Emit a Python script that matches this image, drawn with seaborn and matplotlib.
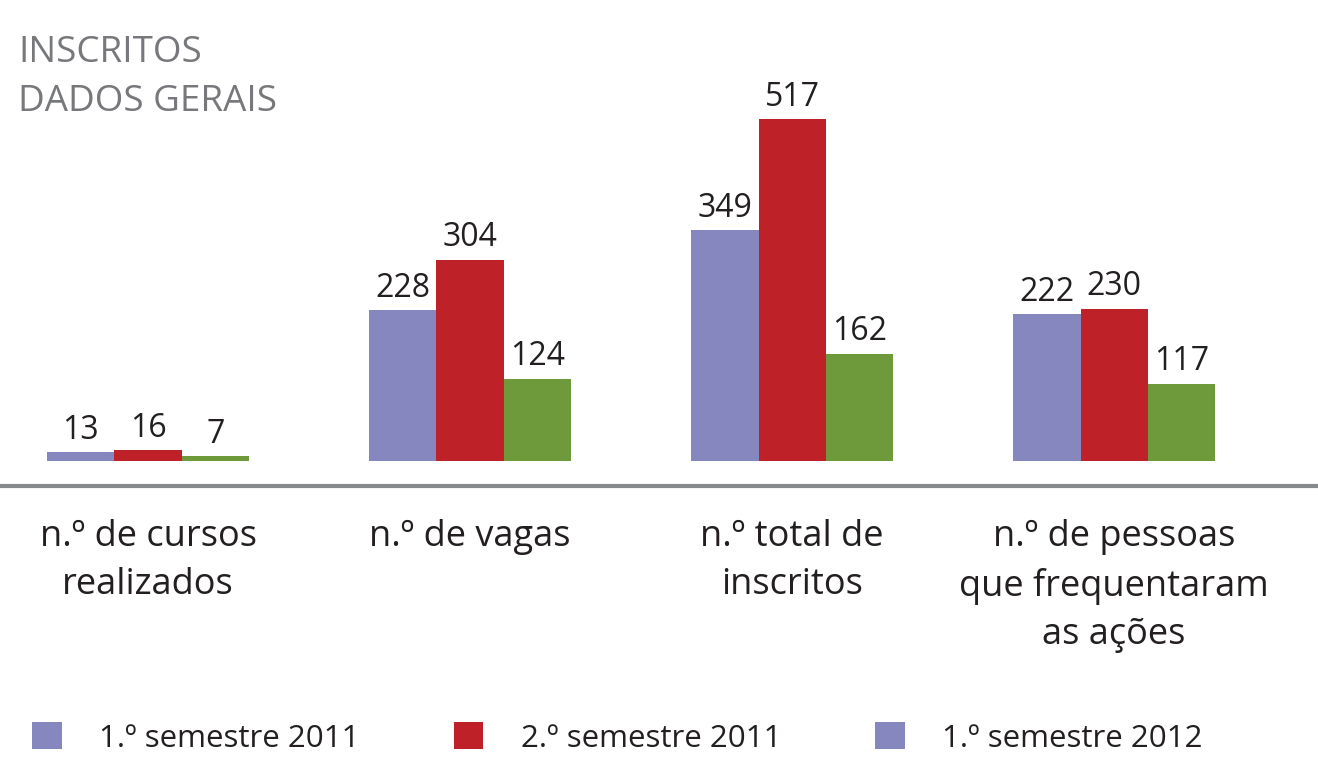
import matplotlib
matplotlib.use("Agg")
import matplotlib.pyplot as plt
from matplotlib.patches import Patch
import seaborn as sns
import pandas as pd

categories = ["n.º de cursos\nrealizados", "n.º de vagas", "n.º total de\ninscritos",
              "n.º de pessoas\nque frequentaram\nas ações"]
series = ["1.º semestre 2011", "2.º semestre 2011", "1.º semestre 2012"]
sem1_2011 = [13, 228, 349, 222]
sem2_2011 = [16, 304, 517, 230]
sem1_2012 = [7, 124, 162, 117]
colors = ["#8787bf", "#be2128", "#6f9a3b"]
legend_colors = ["#8787bf", "#be2128", "#8787bf"]  # as in the original legend

rows = []
for s, vals in zip(series, [sem1_2011, sem2_2011, sem1_2012]):
    for c, v in zip(categories, vals):
        rows.append({"categoria": c, "serie": s, "valor": v})
df = pd.DataFrame(rows)

sns.set_theme(style="white")
plt.rcParams["font.family"] = ["Open Sans", "DejaVu Sans"]
text_color = "#231f20"

fig = plt.figure(figsize=(13.18, 7.58), dpi=100)
ax = fig.add_axes([0, (758 - 486) / 758, 1, (486 - 40) / 758])

sns.barplot(data=df, x="categoria", y="valor", hue="serie", palette=colors,
            width=0.627, saturation=1, linewidth=0, dodge=True, legend=False, ax=ax)

for cont in ax.containers:
    ax.bar_label(cont, padding=4, fontsize=23, color=text_color)

ax.set_xlim(-0.46, 3.633)
ax.set_ylim(-38, 636.6)
ax.set_xlabel("")
ax.set_ylabel("")
ax.set_yticks([])
ax.tick_params(axis="x", length=0, pad=24, labelsize=26, colors=text_color)
for lab in ax.get_xticklabels():
    lab.set_linespacing(1.45)
for side in ["top", "left", "right"]:
    ax.spines[side].set_visible(False)
ax.spines["bottom"].set_color("#88898c")
ax.spines["bottom"].set_linewidth(3)

fig.text(18 / 1318, 1 - 62 / 758, "INSCRITOS", fontsize=26.5, color="#77787b", va="baseline")
fig.text(18 / 1318, 1 - 111 / 758, "DADOS GERAIS", fontsize=26.5, color="#77787b", va="baseline")

handles = [Patch(facecolor=c, edgecolor="none") for c in legend_colors]
fig.legend(handles, series, loc="center", ncol=3, mode="expand", frameon=False,
           bbox_to_anchor=(32 / 1318, 1 - 738 / 758, (1203 - 32) / 1318, 0),
           fontsize=22.5, handlelength=0.95, handleheight=0.95, handletextpad=1.2,
           borderpad=0, borderaxespad=0, labelcolor=text_color)

fig.savefig("out.png", dpi=100)
